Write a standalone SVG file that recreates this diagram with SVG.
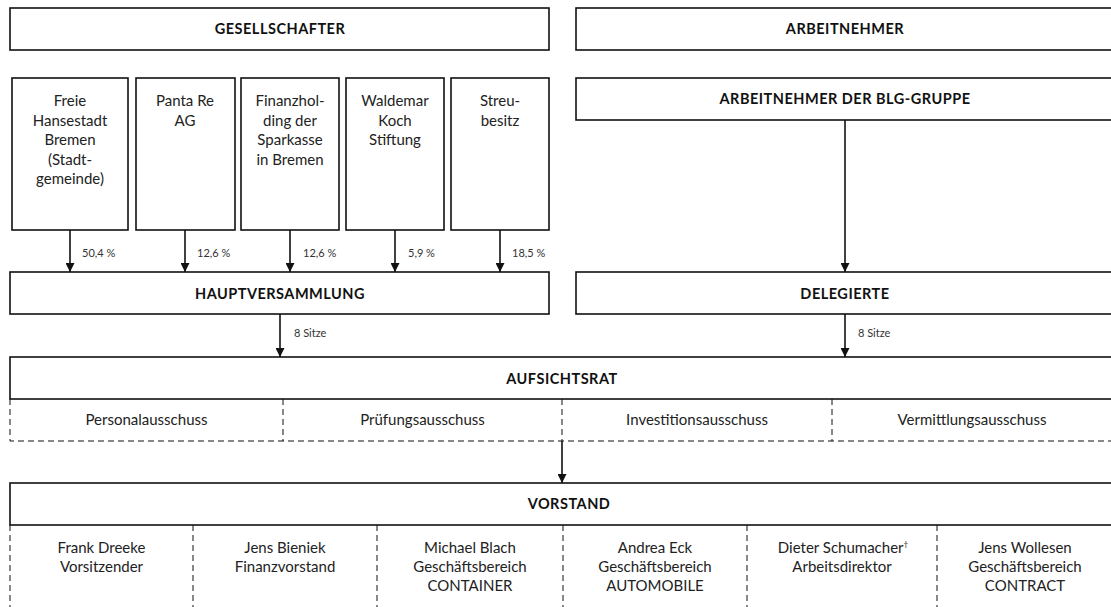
<svg xmlns="http://www.w3.org/2000/svg" width="1111" height="607" viewBox="0 0 1111 607">
<defs>
<style>
.box{fill:#fff;stroke:#111;stroke-width:1.6}
.dash{fill:none;stroke:#111;stroke-width:1;stroke-dasharray:6,4}
.line{fill:none;stroke:#111;stroke-width:1.6}
.h{font-family:Lato,"Liberation Sans",sans-serif;font-weight:700;font-size:14.5px;letter-spacing:0.5px;fill:#111;text-anchor:middle}
.t{font-family:Lato,"Liberation Sans",sans-serif;font-weight:400;font-size:15px;fill:#222;text-anchor:middle}
.s{font-family:Lato,"Liberation Sans",sans-serif;font-weight:400;font-size:11px;fill:#333}
</style>
<marker id="arr" viewBox="0 0 10 10" refX="10" refY="5" markerWidth="10" markerHeight="9" markerUnits="userSpaceOnUse" orient="auto">
<path d="M0,0 L10,5 L0,10 z" fill="#111"/>
</marker>
</defs>
<rect width="1111" height="607" fill="#fff"/>

<g id="gesellschafter">
<rect class="box" x="10" y="8" width="539" height="42"/>
<text class="h" x="280" y="34">GESELLSCHAFTER</text>
</g>
<g id="arbeitnehmer">
<rect class="box" x="576" y="8" width="540" height="42"/>
<text class="h" x="845" y="34">ARBEITNEHMER</text>
</g>

<g id="fhb">
<rect class="box" x="12" y="78" width="116" height="152"/>
<text class="t" x="70" y="106">Freie</text>
<text class="t" x="70" y="125.5">Hansestadt</text>
<text class="t" x="70" y="145">Bremen</text>
<text class="t" x="70" y="164.5">(Stadt-</text>
<text class="t" x="70" y="184">gemeinde)</text>
</g>
<g id="panta">
<rect class="box" x="136" y="78" width="99" height="152"/>
<text class="t" x="185" y="106">Panta Re</text>
<text class="t" x="185" y="125.5">AG</text>
</g>
<g id="finanzholding">
<rect class="box" x="241" y="78" width="98" height="152"/>
<text class="t" x="290" y="106">Finanzhol-</text>
<text class="t" x="290" y="125.5">ding der</text>
<text class="t" x="290" y="145">Sparkasse</text>
<text class="t" x="290" y="164.5">in Bremen</text>
</g>
<g id="koch">
<rect class="box" x="346" y="78" width="98" height="152"/>
<text class="t" x="395" y="106">Waldemar</text>
<text class="t" x="395" y="125.5">Koch</text>
<text class="t" x="395" y="145">Stiftung</text>
</g>
<g id="streubesitz">
<rect class="box" x="451" y="78" width="98" height="152"/>
<text class="t" x="500" y="106">Streu-</text>
<text class="t" x="500" y="125.5">besitz</text>
</g>

<g id="blg">
<rect class="box" x="576" y="78" width="540" height="42"/>
<text class="h" x="845" y="104">ARBEITNEHMER DER BLG-GRUPPE</text>
</g>

<g id="hauptversammlung">
<rect class="box" x="10" y="272" width="539" height="42"/>
<text class="h" x="280" y="298.5">HAUPTVERSAMMLUNG</text>
</g>
<g id="delegierte">
<rect class="box" x="576" y="272" width="540" height="42"/>
<text class="h" x="845" y="298.5">DELEGIERTE</text>
</g>

<g id="aufsichtsrat">
<rect class="box" x="10" y="357" width="1106" height="42"/>
<text class="h" x="562" y="383.5">AUFSICHTSRAT</text>
<path class="dash" d="M10,399 V441 H1114 M283,399 V441 M562,399 V441 M832,399 V441"/>
<text class="t" x="146.5" y="424.5">Personalausschuss</text>
<text class="t" x="422.5" y="424.5">Prüfungsausschuss</text>
<text class="t" x="697" y="424.5">Investitionsausschuss</text>
<text class="t" x="972" y="424.5">Vermittlungsausschuss</text>
</g>

<g id="vorstand">
<rect class="box" x="10" y="483" width="1106" height="42"/>
<text class="h" x="569" y="509">VORSTAND</text>
<path class="dash" d="M10,525 V607 M193,525 V607 M377,525 V607 M563,525 V607 M747,525 V607 M937,525 V607"/>
<text class="t" x="101.5" y="553">Frank Dreeke</text>
<text class="t" x="101.5" y="572">Vorsitzender</text>
<text class="t" x="285" y="553">Jens Bieniek</text>
<text class="t" x="285" y="572">Finanzvorstand</text>
<text class="t" x="470" y="553">Michael Blach</text>
<text class="t" x="470" y="572">Geschäftsbereich</text>
<text class="t" x="470" y="591">CONTAINER</text>
<text class="t" x="655" y="553">Andrea Eck</text>
<text class="t" x="655" y="572">Geschäftsbereich</text>
<text class="t" x="655" y="591">AUTOMOBILE</text>
<text class="t" x="843" y="553">Dieter Schumacher<tspan font-size="8" dy="-6">†</tspan></text>
<text class="t" x="842" y="572">Arbeitsdirektor</text>
<text class="t" x="1025" y="553">Jens Wollesen</text>
<text class="t" x="1025" y="572">Geschäftsbereich</text>
<text class="t" x="1025" y="591">CONTRACT</text>
</g>

<g id="connectors">
<line class="line" x1="70" y1="230" x2="70" y2="272" marker-end="url(#arr)"/>
<line class="line" x1="185" y1="230" x2="185" y2="272" marker-end="url(#arr)"/>
<line class="line" x1="290" y1="230" x2="290" y2="272" marker-end="url(#arr)"/>
<line class="line" x1="395" y1="230" x2="395" y2="272" marker-end="url(#arr)"/>
<line class="line" x1="500" y1="230" x2="500" y2="272" marker-end="url(#arr)"/>
<text class="s" x="82" y="257">50,4 %</text>
<text class="s" x="197" y="257">12,6 %</text>
<text class="s" x="303" y="257">12,6 %</text>
<text class="s" x="408" y="257">5,9 %</text>
<text class="s" x="512" y="257">18,5 %</text>
<line class="line" x1="845" y1="120" x2="845" y2="272" marker-end="url(#arr)"/>
<line class="line" x1="280" y1="314" x2="280" y2="357" marker-end="url(#arr)"/>
<text class="s" x="294" y="337">8 Sitze</text>
<line class="line" x1="845" y1="314" x2="845" y2="357" marker-end="url(#arr)"/>
<text class="s" x="858" y="337">8 Sitze</text>
<line class="line" x1="562" y1="441" x2="562" y2="483" marker-end="url(#arr)"/>
</g>
</svg>
